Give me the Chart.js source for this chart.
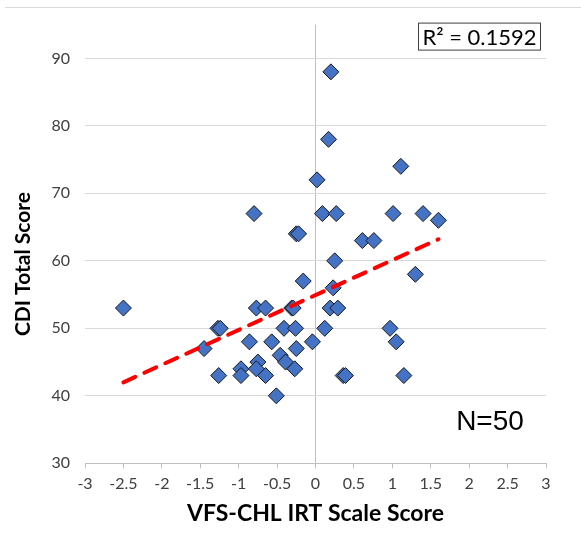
<!DOCTYPE html>
<html><head><meta charset="utf-8">
<script src="https://cdn.jsdelivr.net/npm/chart.js@4.4.0/dist/chart.umd.min.js"></script>
<style>html,body{margin:0;padding:0;background:#fff;overflow:hidden}</style>
</head><body>
<canvas id="c" width="581" height="540"></canvas>
<script>
// VFS-CHL IRT scale score (x) and CDI total score (y) for each child
const vfsScores = [0.02,-0.80,-0.25,-0.22,0.09,0.20,0.17,1.11,0.27,1.01,1.40,1.60,0.61,0.76,0.25,1.30,-0.16,0.23,0.19,0.29,0.12,-0.04,0.97,1.05,0.36,0.39,1.15,-2.50,-1.27,-1.24,-1.45,-1.26,-0.77,-0.65,-0.31,-0.29,-0.86,-0.57,-0.41,-0.26,-0.25,-0.46,-0.39,-0.27,-0.97,-0.97,-0.75,-0.77,-0.65,-0.51];
const cdiScores = [72,67,64,64,67,88,78,74,67,67,67,66,63,63,60,58,57,56,53,53,50,48,50,48,43,43,43,53,50,50,47,43,53,53,53,53,48,48,50,50,47,46,45,44,44,43,45,44,43,40];
// Linear trend line end points
const trendX = [-2.5, 1.6];
const trendY = [42.0, 63.2];
// Axis ticks
const xTicks = [-3,-2.5,-2,-1.5,-1,-0.5,0,0.5,1,1.5,2,2.5,3];
const yTicks = [30,40,50,60,70,80,90];
const xTitle = 'VFS-CHL IRT Scale Score';
const yTitle = 'CDI Total Score';
const r2Label = 'R\u00B2 = 0.1592';
const nLabel = 'N=50';

const points = vfsScores.map((x, i) => ({x: x, y: cdiScores[i]}));
const trend = trendX.map((x, i) => ({x: x, y: trendY[i]}));

const annot = {
  id: 'annot',
  beforeDraw(chart) {
    const c = chart.ctx;
    c.save();
    c.fillStyle = '#fff';
    c.fillRect(0, 0, chart.width, chart.height);
    c.strokeStyle = '#d9d9d9';
    c.lineWidth = 1;
    c.beginPath(); c.moveTo(5, 7.5); c.lineTo(chart.width, 7.5); c.stroke();
    c.restore();
  },
  afterDraw(chart) {
    const c = chart.ctx, a = chart.chartArea;
    c.save();
    // y-axis title
    c.translate(a.left - 62, 264);
    c.rotate(-Math.PI / 2);
    c.font = 'bold 21px Lato';
    c.fillStyle = '#000';
    c.textAlign = 'center';
    c.textBaseline = 'middle';
    c.fillText(yTitle, 0, 0);
    c.restore();
    // R² box
    c.save();
    const bx = a.right - 127.5, by = a.top - 1.5, bw = 122, bh = 27;
    c.fillStyle = '#fff';
    c.fillRect(bx, by, bw, bh);
    c.strokeStyle = '#404040';
    c.lineWidth = 1;
    c.strokeRect(bx, by, bw, bh);
    c.font = '22px Lato';
    c.fillStyle = '#000';
    c.textAlign = 'center';
    c.textBaseline = 'middle';
    c.fillText(r2Label, bx + bw / 2, by + bh / 2 + 1);
    // N label
    c.font = '28px "Liberation Sans"';
    c.fillText(nLabel, a.right - 56, a.bottom - 41);
    c.restore();
  }
};

new Chart(document.getElementById('c'), {
  type: 'scatter',
  data: {
    datasets: [
      {
        type: 'line',
        data: trend,
        showLine: true,
        borderColor: '#FF0000',
        borderWidth: 4,
        borderDash: [13, 10],
        borderCapStyle: 'round',
        pointRadius: 0,
        fill: false,
        order: 0
      },
      {
        data: points,
        pointStyle: 'rectRot',
        pointRadius: 8,
        pointHoverRadius: 8,
        backgroundColor: '#4472C4',
        borderColor: '#1a1a1a',
        borderWidth: 1,
        order: 1
      }
    ]
  },
  options: {
    responsive: false,
    animation: false,
    devicePixelRatio: 1,
    layout: {padding: {top: 23, right: 35, left: 0, bottom: 0}},
    plugins: {legend: {display: false}, tooltip: {enabled: false}},
    scales: {
      x: {
        type: 'linear',
        position: 'bottom',
        min: -3, max: 3,
        afterBuildTicks: s => { s.ticks = xTicks.map(v => ({value: v})); },
        afterFit: s => { s.height = 76.7; },
        ticks: {
          font: {family: 'Lato', size: 16},
          color: '#404040',
          padding: 6,
          maxRotation: 0,
          autoSkip: false,
          callback: v => String(v)
        },
        grid: {
          color: ctx => (ctx.tick && ctx.tick.value === 0) ? '#bfbfbf' : 'rgba(0,0,0,0)',
          tickColor: '#bfbfbf',
          tickLength: 5,
          lineWidth: 1
        },
        border: {display: true, color: '#bfbfbf'},
        title: {
          display: true,
          text: xTitle,
          font: {family: 'Lato', size: 23, weight: 'bold'},
          color: '#000',
          padding: {top: 0, bottom: 13}
        }
      },
      y: {
        type: 'linear',
        min: 30, max: 95,
        afterBuildTicks: s => { s.ticks = yTicks.map(v => ({value: v})); },
        afterFit: s => { s.width = 85; },
        ticks: {
          font: {family: 'Lato', size: 16},
          color: '#404040',
          padding: 15
        },
        grid: {color: '#d9d9d9', drawTicks: false, lineWidth: 1},
        border: {display: false}
      }
    }
  },
  plugins: [annot]
});
</script>
</body></html>
